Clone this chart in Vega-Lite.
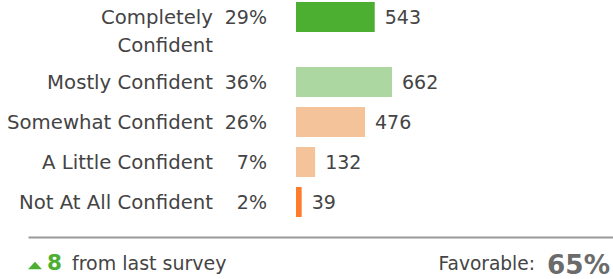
{
  "$schema": "https://vega.github.io/schema/vega-lite/v6.json",
  "autosize": {"type": "pad"},
  "padding": {"left": 7, "top": 0, "right": 0, "bottom": 0},
  "background": "white",
  "bounds": "flush",
  "spacing": 33,
  "config": {"view": {"stroke": null}, "font": "DejaVu Sans"},
  "resolve": {"scale": {"y": "independent", "x": "independent"}},
  "datasets": {
    "rows": [
      {"label": "Completely Confident", "count": 543, "pct": 0.29},
      {"label": "Mostly Confident", "count": 662, "pct": 0.36},
      {"label": "Somewhat Confident", "count": 476, "pct": 0.26},
      {"label": "A Little Confident", "count": 132, "pct": 0.07},
      {"label": "Not At All Confident", "count": 39, "pct": 0.02}
    ],
    "summary": [{"change": 8, "favorable": 0.65}]
  },
  "vconcat": [
    {
      "data": {"name": "rows"},
      "transform": [{"filter": "datum.label === 'Completely Confident'"}],
      "width": 585,
      "height": 34,
      "encoding": {
        "y": {"field": "label", "type": "nominal", "sort": null, "axis": null,
              "scale": {"paddingInner": 0, "paddingOuter": 0}}
      },
      "layer": [
        {
          "mark": {"type": "bar", "size": 30},
          "encoding": {
            "x": {"field": "count", "type": "quantitative", "axis": null,
                  "scale": {"domain": [-1848, 2186], "nice": false}},
            "color": {"field": "label", "type": "nominal", "legend": null,
                      "scale": {"domain": ["Completely Confident", "Mostly Confident", "Somewhat Confident", "A Little Confident", "Not At All Confident"],
                                "range": ["#4CAF32", "#ADD7A0", "#F5C39A", "#F5C39A", "#FE7B2B"]}}
          }
        },
        {
          "mark": {"type": "text", "align": "right", "baseline": "top", "dx": -83, "dy": -9, "fontSize": 19.7, "color": "#444444", "lineBreak": " ", "lineHeight": 28},
          "encoding": {"x": {"datum": 0, "type": "quantitative"}, "text": {"field": "label"}}
        },
        {
          "mark": {"type": "text", "align": "right", "dx": -29, "dy": 1, "fontSize": 19, "color": "#444444"},
          "encoding": {"x": {"datum": 0, "type": "quantitative"}, "text": {"field": "pct", "format": ".0%"}}
        },
        {
          "mark": {"type": "text", "align": "left", "dx": 10, "dy": 1, "fontSize": 19, "color": "#444444"},
          "encoding": {"x": {"field": "count", "type": "quantitative"}, "text": {"field": "count"}}
        }
      ]
    },
    {
      "data": {"name": "rows"},
      "transform": [{"filter": "datum.label !== 'Completely Confident'"}],
      "width": 585,
      "height": 170,
      "encoding": {
        "y": {"field": "label", "type": "nominal", "sort": null, "axis": null,
              "scale": {"paddingInner": 0.25, "paddingOuter": 0.25, "align": 0}}
      },
      "layer": [
        {
          "mark": {"type": "bar"},
          "encoding": {
            "x": {"field": "count", "type": "quantitative",
                  "scale": {"domain": [-1848, 2186], "nice": false},
                  "axis": {"labels": false, "ticks": false, "title": null, "grid": false, "domainColor": "#999999", "domainWidth": 2}},
            "color": {"field": "label", "type": "nominal", "legend": null,
                      "scale": {"domain": ["Completely Confident", "Mostly Confident", "Somewhat Confident", "A Little Confident", "Not At All Confident"],
                                "range": ["#4CAF32", "#ADD7A0", "#F5C39A", "#F5C39A", "#FE7B2B"]}}
          }
        },
        {
          "mark": {"type": "text", "align": "right", "dx": -83, "dy": 1, "fontSize": 19.7, "color": "#444444"},
          "encoding": {"x": {"datum": 0, "type": "quantitative"}, "text": {"field": "label"}}
        },
        {
          "mark": {"type": "text", "align": "right", "dx": -29, "dy": 1, "fontSize": 19, "color": "#444444"},
          "encoding": {"x": {"datum": 0, "type": "quantitative"}, "text": {"field": "pct", "format": ".0%"}}
        },
        {
          "mark": {"type": "text", "align": "left", "dx": 10, "dy": 1, "fontSize": 19, "color": "#444444"},
          "encoding": {"x": {"field": "count", "type": "quantitative"}, "text": {"field": "count"}}
        }
      ]
    },
    {
      "data": {"name": "summary"},
      "width": 585,
      "height": 9,
      "layer": [
        {
          "mark": {"type": "point", "shape": "M-1,0.55L1,0.55L0,-0.55Z", "filled": true, "opacity": 1, "color": "#4CAF32", "size": 196, "xOffset": 7, "yOffset": -9},
          "encoding": {"x": {"value": 0}}
        },
        {
          "mark": {"type": "text", "align": "left", "dx": 19, "dy": -10.5, "fontSize": 21.5, "fontWeight": "bold", "color": "#4CAF32"},
          "encoding": {"x": {"value": 0}, "text": {"field": "change"}}
        },
        {
          "mark": {"type": "text", "align": "left", "dx": 44, "dy": -10.3, "fontSize": 19, "color": "#444444", "text": "from last survey"},
          "encoding": {"x": {"value": 0}}
        },
        {
          "mark": {"type": "text", "align": "right", "dx": -78, "dy": -10.8, "fontSize": 18.6, "color": "#444444", "text": "Favorable:"},
          "encoding": {"x": {"value": "width"}}
        },
        {
          "mark": {"type": "text", "align": "right", "dx": -3, "dy": -8.9, "fontSize": 26.3, "fontWeight": "bold", "color": "#6B6B6B"},
          "encoding": {"x": {"value": "width"}, "text": {"field": "favorable", "format": ".0%"}}
        }
      ]
    }
  ]
}
